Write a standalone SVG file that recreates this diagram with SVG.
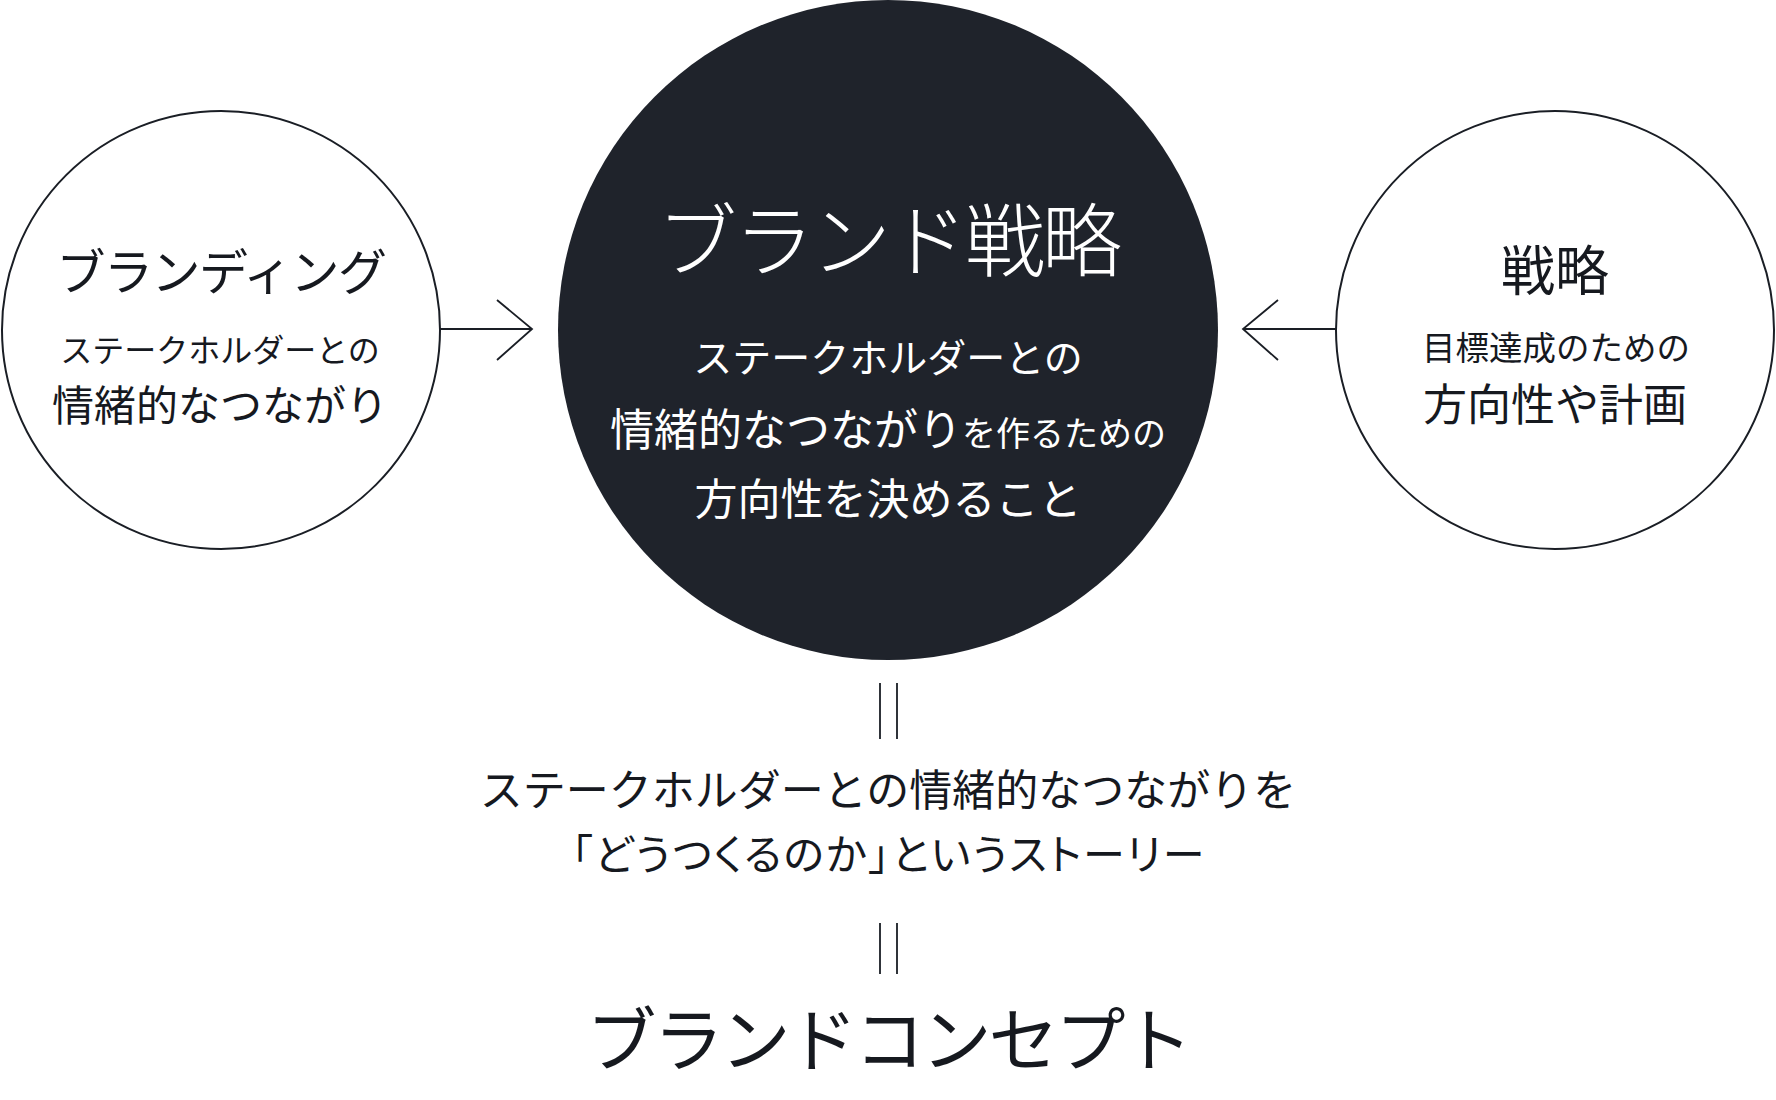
<svg xmlns="http://www.w3.org/2000/svg" width="1776" height="1100" viewBox="0 0 1776 1100">
<style>
text{font-family:"Noto Sans CJK JP","Noto Sans CJK SC",sans-serif;text-anchor:middle;fill:#16191f}
.w{fill:#ffffff}
.ring{fill:#ffffff;stroke:#1a1e25;stroke-width:2}
.ln{fill:none;stroke:#1a1e25;stroke-width:1.8}
</style>
<rect width="1776" height="1100" fill="#ffffff"/>
<g id="branding">
<circle class="ring" cx="221" cy="330" r="219"/>
<text x="221" y="290" font-size="49" letter-spacing="-1.5">ブランディング</text>
<text x="220" y="362" font-size="32">ステークホルダーとの</text>
<text x="220" y="421" font-size="42">情緒的なつながり</text>
</g>
<g id="brand-strategy">
<circle cx="888" cy="330" r="330" fill="#1f232b"/>
<text class="w" x="888" y="270" font-size="80" letter-spacing="-3" font-weight="300">ブランド戦略</text>
<text class="w" x="888" y="372" font-size="39">ステークホルダーとの</text>
<text class="w" x="888" y="446"><tspan font-size="44">情緒的なつながり</tspan><tspan font-size="34">を作るための</tspan></text>
<text class="w" x="888" y="515" font-size="43">方向性を決めること</text>
</g>
<g id="strategy">
<circle class="ring" cx="1555" cy="330" r="219"/>
<text x="1555" y="291" font-size="54">戦略</text>
<text x="1556" y="360" font-size="33.5">目標達成のための</text>
<text x="1555" y="421" font-size="44">方向性や計画</text>
</g>
<g id="story">
<text x="888" y="806" font-size="43">ステークホルダーとの情緒的なつながりを</text>
<text x="889" y="870" font-size="42" letter-spacing="2" style="font-feature-settings:'palt'">「どうつくるのか」というストーリー</text>
</g>
<g id="brand-concept">
<text x="888" y="1066" font-size="70" letter-spacing="-3">ブランドコンセプト</text>
</g>
<g id="connectors">
<path class="ln" d="M440 329H532M497 300L532 329L497 360"/>
<path class="ln" d="M1336 329H1243M1278 300L1243 329L1278 360"/>
<path class="ln" d="M880 683V739M897 683V739"/>
<path class="ln" d="M880 923V974M897 923V974"/>
</g>
</svg>
